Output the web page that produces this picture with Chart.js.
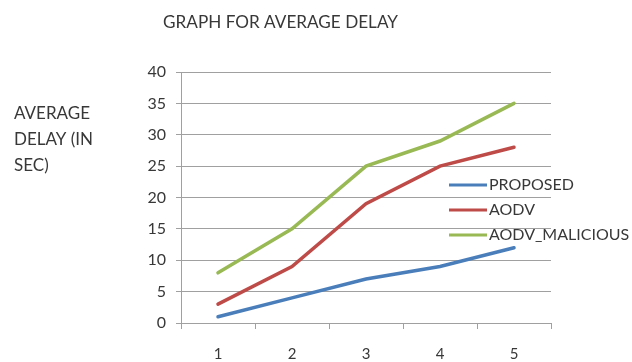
<!DOCTYPE html>
<html>
<head>
<meta charset="utf-8">
<script src="https://cdn.jsdelivr.net/npm/chart.js@4/dist/chart.umd.min.js"></script>
<style>
  html, body { margin: 0; padding: 0; background: #ffffff; }
  #wrap { width: 632px; height: 362px; position: relative; }
</style>
</head>
<body>
<div id="wrap"><canvas id="c" width="632" height="362"></canvas></div>
<script>
// Categories along the x axis
const categories = ['1', '2', '3', '4', '5'];

// Average delay (seconds) per series
const proposed = [1, 4, 7, 9, 12];
const aodv = [3, 9, 19, 25, 28];
const aodvMalicious = [8, 15, 25, 29, 35];

const seriesNames = ['PROPOSED', 'AODV', 'AODV_MALICIOUS'];
const chartTitle = 'GRAPH FOR AVERAGE DELAY';
const yTitleLines = ['AVERAGE', 'DELAY (IN', 'SEC)'];

const FONT = 'Lato, "Open Sans", sans-serif';
const GRID = '#a0a0a0';
const TEXT = '#383838';

// Title (slightly condensed), horizontal y-axis caption and in-plot legend
const decorations = {
  id: 'decorations',
  afterDraw(chart) {
    const ctx = chart.ctx;
    ctx.save();
    ctx.fillStyle = TEXT;
    ctx.textBaseline = 'middle';
    ctx.textAlign = 'left';

    ctx.save();
    ctx.font = '18px ' + FONT;
    const w = ctx.measureText(chartTitle).width;
    ctx.translate(163, 22);
    ctx.scale(235 / w, 1);
    ctx.fillText(chartTitle, 0, 0);
    ctx.restore();

    ctx.font = '17px ' + FONT;
    yTitleLines.forEach((t, i) => ctx.fillText(t, 14, 114 + i * 26));

    const x0 = 449, x1 = 487;
    chart.data.datasets.forEach((ds, i) => {
      const y = 185 + i * 25;
      ctx.strokeStyle = ds.borderColor;
      ctx.lineWidth = 3;
      ctx.beginPath();
      ctx.moveTo(x0, y);
      ctx.lineTo(x1, y);
      ctx.stroke();
      ctx.fillStyle = TEXT;
      ctx.font = '16px ' + FONT;
      ctx.fillText(ds.label, x1 + 2, y);
    });
    ctx.restore();
  }
};

new Chart(document.getElementById('c'), {
  type: 'line',
  data: {
    labels: categories,
    datasets: [
      { label: seriesNames[0], data: proposed, borderColor: '#4a7ebb' },
      { label: seriesNames[1], data: aodv, borderColor: '#be4b48' },
      { label: seriesNames[2], data: aodvMalicious, borderColor: '#98b954' }
    ]
  },
  options: {
    responsive: false,
    animation: false,
    layout: { padding: { left: 0, right: 81, top: 72, bottom: 0 } },
    elements: {
      line: { borderWidth: 3.5, tension: 0, borderCapStyle: 'round' },
      point: { radius: 0, hoverRadius: 0 }
    },
    plugins: {
      legend: { display: false },
      title: { display: false },
      tooltip: { enabled: false }
    },
    scales: {
      x: {
        offset: true,
        grid: {
          offset: true,
          drawOnChartArea: false,
          drawTicks: true,
          tickLength: 6,
          color: GRID
        },
        border: { display: true, color: GRID, width: 1 },
        ticks: {
          color: TEXT,
          font: { family: FONT, size: 15 },
          padding: 16,
          maxRotation: 0
        },
        afterFit(scale) { scale.height = 39; }
      },
      y: {
        min: 0,
        max: 40,
        grid: {
          color: GRID,
          tickLength: 5,
          drawTicks: true
        },
        border: { display: true, color: GRID, width: 1 },
        ticks: {
          stepSize: 5,
          color: TEXT,
          font: { family: FONT, size: 16 },
          padding: 10
        },
        afterFit(scale) { scale.width = 181; }
      }
    }
  },
  plugins: [decorations]
});
</script>
</body>
</html>
